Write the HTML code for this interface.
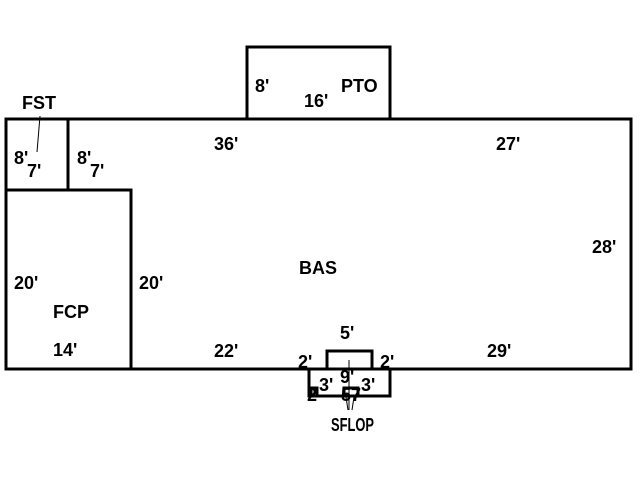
<!DOCTYPE html>
<html><head><style>body{margin:0;background:#fff}svg{display:block}text{font-family:"Liberation Sans",sans-serif;font-weight:bold;font-size:18px;fill:#000}</style></head>
<body><svg width="640" height="480" xmlns="http://www.w3.org/2000/svg">
<g fill="none" stroke="#000" stroke-width="3">
<rect x="6" y="119" width="625" height="250"/>
<rect x="247" y="47" width="143" height="72"/>
<rect x="6" y="119" width="62" height="71"/>
<rect x="6" y="190" width="125" height="179"/>
<rect x="327" y="351" width="45" height="18"/>
<rect x="309" y="369" width="81" height="27"/>
<rect x="311" y="388" width="6" height="8"/>
<rect x="344" y="388" width="14" height="8"/>
</g>
<g stroke="#000" stroke-width="1" fill="none">
<line x1="40" y1="116" x2="37" y2="152"/>
<line x1="349" y1="360" x2="349" y2="410"/>
<line x1="346" y1="397" x2="348" y2="410"/>
<line x1="354" y1="397" x2="352" y2="410"/>
</g>
<text x="22" y="109">FST</text>
<text x="14" y="164">8'</text><text x="27" y="177">7'</text>
<text x="77" y="164">8'</text><text x="90" y="177">7'</text>
<text x="255" y="92">8'</text><text x="304" y="107">16'</text><text x="341" y="92">PTO</text>
<text x="214" y="150">36'</text><text x="496" y="150">27'</text>
<text x="592" y="253">28'</text>
<text x="299" y="274">BAS</text>
<text x="14" y="289">20'</text><text x="139" y="289">20'</text>
<text x="53" y="318">FCP</text><text x="53" y="356">14'</text>
<text x="214" y="357">22'</text><text x="487" y="357">29'</text>
<text x="340" y="339">5'</text>
<text x="298" y="368">2'</text><text x="380" y="368">2'</text>
<text x="319" y="391">3'</text><text x="340" y="383">9'</text><text x="361" y="391">3'</text>
<text x="307" y="401">2</text><text x="341" y="401">57</text>
<text x="331" y="431" textLength="43" lengthAdjust="spacingAndGlyphs">SFLOP</text>
</svg></body></html>
